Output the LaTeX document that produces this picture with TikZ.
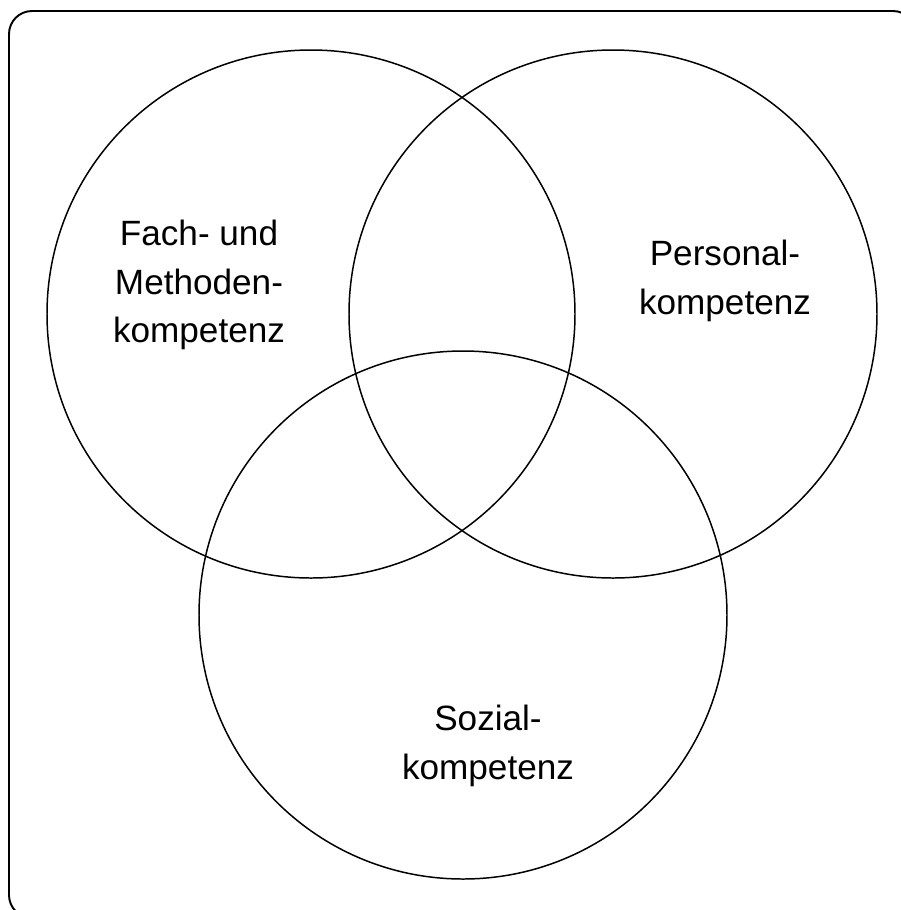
\documentclass[tikz,border=0pt]{standalone}
\usepackage{fontspec}
\setmainfont{Liberation Sans}
\begin{document}
\begin{tikzpicture}[thick]
  \tikzset{
    ring/.style={draw, line width=0.85pt},
    label/.style={align=center, font=\fontsize{20}{27.5}\selectfont}
  }

  % -- Canvas --
  \useasboundingbox (0,0) rectangle (18.02,-18.2);
  \clip (0,0) rectangle (18.02,-18.2);
  \draw[line width=1.1pt, rounded corners=0.46cm] (0.18,-0.22) rectangle (18.32,-18.36);

  % -- Competence circles --
  \draw[ring] (6.22,-6.28) circle (5.28);
  \draw[ring] (12.26,-6.28) circle (5.28);
  \draw[ring] (9.26,-12.30) circle (5.28);

  % -- Labels --
  \node[label] (fach) at (3.98,-5.7) {Fach- und\\Methoden-\\kompetenz};
  \node[label] (personal) at (14.5,-5.62) {Personal-\\kompetenz};
  \node[label] (sozial) at (9.76,-14.92) {Sozial-\\kompetenz};

\end{tikzpicture}
\end{document}
